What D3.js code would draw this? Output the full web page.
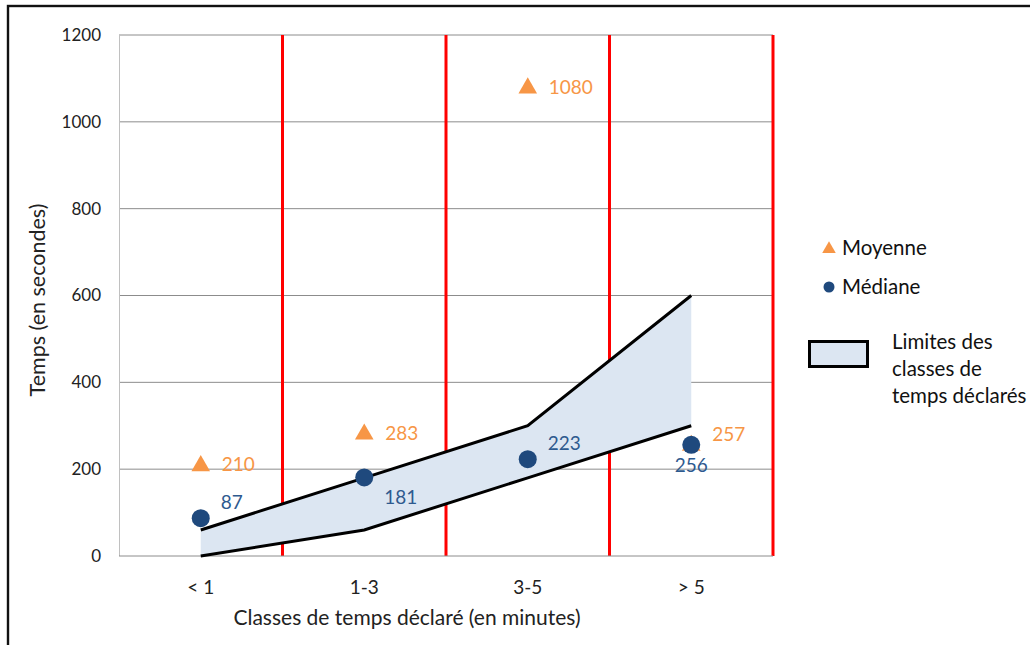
<!DOCTYPE html>
<html><head><meta charset="utf-8">
<script src="https://cdn.jsdelivr.net/npm/d3@7"></script>
<style>body{margin:0;background:#fff}svg{display:block;font-family:Lato,"Open Sans",sans-serif}</style>
</head><body>
<script>
const categories = ["< 1", "1-3", "3-5", "> 5"];
const meanValues = [210, 283, 1080, 257];
const medianValues = [87, 181, 223, 256];
const bandLower = [0, 60, 180, 300];
const bandUpper = [60, 180, 300, 600];
const yTicks = [0, 200, 400, 600, 800, 1000, 1200];
const medianLabelPos = ["above", "below", "above", "under"];
const legendLabels = ["Moyenne", "Médiane", ["Limites des", "classes de", "temps déclarés"]];

const W = 1030, H = 645;
const svg = d3.select("body").append("svg").attr("width", W).attr("height", H);

svg.append("rect").attr("x", 8).attr("y", 6).attr("width", 1100).attr("height", 800)
  .attr("fill", "none").attr("stroke", "#111").attr("stroke-width", 2.4);

const x = d3.scaleBand().domain(categories).range([119, 773]).padding(0);
const y = d3.scaleLinear().domain([0, 1200]).range([556, 35]);
const cx = c => x(c) + x.bandwidth() / 2;

// gridlines
svg.append("g").selectAll("line").data(yTicks.filter(d => d > 0)).join("line")
  .attr("x1", 119).attr("x2", 773).attr("y1", d => y(d)).attr("y2", d => y(d))
  .attr("stroke", "#8c8c8c").attr("stroke-width", 1);

// left axis line
svg.append("line").attr("x1", 119.5).attr("x2", 119.5).attr("y1", y(1200)).attr("y2", y(0))
  .attr("stroke", "#c0c0c0").attr("stroke-width", 1);

// y tick labels
svg.append("g").selectAll("text").data(yTicks).join("text")
  .attr("x", 101).attr("y", d => y(d)).attr("dy", "0.35em").attr("text-anchor", "end")
  .attr("font-size", 17).attr("fill", "#222").text(d => d);

// red separators
svg.append("g").selectAll("line").data(categories).join("line")
  .attr("x1", d => x(d) + x.bandwidth()).attr("x2", d => x(d) + x.bandwidth())
  .attr("y1", y(1200)).attr("y2", y(0))
  .attr("stroke", "#ff0000").attr("stroke-width", 3);

// bottom axis line
svg.append("line").attr("x1", 119).attr("x2", 773).attr("y1", y(0)).attr("y2", y(0))
  .attr("stroke", "#8c8c8c").attr("stroke-width", 1);

// band
const bandData = categories.map((c, i) => ({c, lo: bandLower[i], hi: bandUpper[i]}));
svg.append("path").datum(bandData)
  .attr("d", d3.area().x(d => cx(d.c)).y0(d => y(d.lo)).y1(d => y(d.hi)))
  .attr("fill", "#dce6f2");
[bandLower, bandUpper].forEach(arr => {
  svg.append("path").datum(arr)
    .attr("d", d3.line().x((d, i) => cx(categories[i])).y(d => y(d)))
    .attr("fill", "none").attr("stroke", "#000").attr("stroke-width", 3);
});

// category labels
svg.append("g").selectAll("text").data(categories).join("text")
  .attr("x", d => cx(d)).attr("y", 587).attr("dy", "0.35em").attr("text-anchor", "middle")
  .attr("font-size", 19).attr("fill", "#222").text(d => d);

// axis titles
svg.append("text").attr("x", 407).attr("y", 618).attr("dy", "0.35em").attr("text-anchor", "middle")
  .attr("font-size", 21).attr("fill", "#222").text("Classes de temps déclaré (en minutes)");
svg.append("text").attr("transform", "translate(37,300) rotate(-90)").attr("dy", "0.35em")
  .attr("text-anchor", "middle").attr("font-size", 21.5).attr("fill", "#222").text("Temps (en secondes)");

const orange = "#f79646", navy = "#1f497d", blueLbl = "#2e5a8f";
const tri = d3.symbol().type(d3.symbolTriangle).size(150);

// means
svg.append("g").selectAll("path").data(meanValues).join("path")
  .attr("d", tri).attr("fill", orange)
  .attr("transform", (d, i) => `translate(${cx(categories[i])},${y(d) + 1})`);
svg.append("g").selectAll("text").data(meanValues).join("text")
  .attr("x", (d, i) => cx(categories[i]) + 21)
  .attr("y", (d, i) => y(d) + (i === 3 ? -10 : 0)).attr("dy", "0.35em")
  .attr("font-size", 19).attr("fill", orange).text(d => d);

// medians
svg.append("g").selectAll("circle").data(medianValues).join("circle")
  .attr("cx", (d, i) => cx(categories[i])).attr("cy", d => y(d)).attr("r", 9).attr("fill", navy);
svg.append("g").selectAll("text").data(medianValues).join("text")
  .attr("x", (d, i) => medianLabelPos[i] === "under" ? cx(categories[i]) : cx(categories[i]) + 20)
  .attr("y", (d, i) => {
    const p = medianLabelPos[i];
    return y(d) + (p === "above" ? -16 : 20);
  })
  .attr("dy", "0.35em")
  .attr("text-anchor", (d, i) => medianLabelPos[i] === "under" ? "middle" : "start")
  .attr("font-size", 19).attr("fill", blueLbl).text(d => d);

// legend
const lg = svg.append("g");
lg.append("path").attr("d", d3.symbol().type(d3.symbolTriangle).size(80)).attr("fill", orange)
  .attr("transform", "translate(829,249)");
lg.append("text").attr("x", 842).attr("y", 248).attr("dy", "0.35em").attr("font-size", 20.5)
  .attr("fill", "#111").text(legendLabels[0]);
lg.append("circle").attr("cx", 829).attr("cy", 287).attr("r", 5.5).attr("fill", navy);
lg.append("text").attr("x", 842).attr("y", 287).attr("dy", "0.35em").attr("font-size", 20.5)
  .attr("fill", "#111").text(legendLabels[1]);
lg.append("rect").attr("x", 809.5).attr("y", 341.5).attr("width", 58).attr("height", 25)
  .attr("fill", "#dce6f2").attr("stroke", "#000").attr("stroke-width", 3);
lg.append("g").selectAll("text").data(legendLabels[2]).join("text")
  .attr("x", 892).attr("y", (d, i) => 342 + i * 27).attr("dy", "0.35em").attr("font-size", 20.5)
  .attr("fill", "#111").text(d => d);
</script>
</body></html>
